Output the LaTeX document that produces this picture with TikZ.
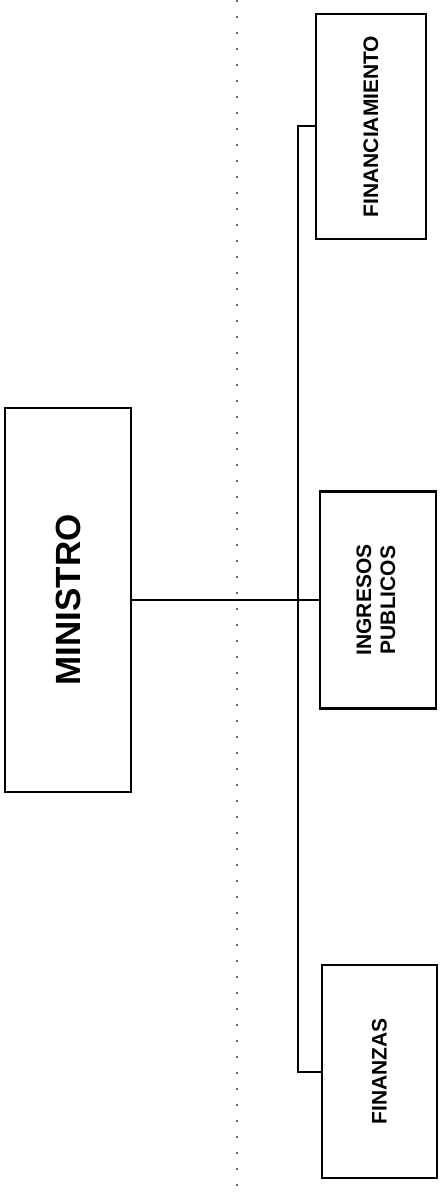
\documentclass[tikz,border=0pt]{standalone}
\usepackage{fontspec}
\setmainfont{Liberation Sans}
\usepackage{graphicx}
\usepackage{tikz}

\tikzset{
    unitbox/.style={draw, line width=1.2pt, inner sep=0pt, font=\bfseries\fontsize{10.5}{13}\selectfont},
    link/.style={line width=1pt}
}

\begin{document}
\begin{tikzpicture}[x=0.5pt,y=-0.5pt]
\useasboundingbox (0,0) rectangle (439,1192);

% Dotted guide line
\draw[gray!80!black, line width=0.8pt, dash pattern=on 1pt off 7pt] (237,0) -- (237,1192);

% Minister
\node[unitbox, minimum width=63pt, minimum height=192pt, font=\bfseries\fontsize{17.5}{21}\selectfont]
    (min) at (68,600) {\rotatebox{90}{MINISTRO}};

% Dependent units
\node[unitbox, minimum width=55pt, minimum height=112.5pt] (fin) at (371,126.5) {\rotatebox{90}{FINANCIAMIENTO}};
\node[unitbox, minimum width=58pt, minimum height=108.5pt] (ing) at (378,600)
    {\rotatebox{90}{\begin{tabular}{@{}c@{}}INGRESOS\\[-1pt]PUBLICOS\end{tabular}}};
\node[unitbox, minimum width=57.5pt, minimum height=106.5pt] (fnz) at (379.5,1071.5) {\rotatebox{90}{FINANZAS}};

% Connectors
\coordinate (trunk) at (298,600);
\draw[link] (min.east) -- (ing.west);
\draw[link] (fin.west) -- (fin.west -| trunk) -- (fnz.west -| trunk) -- (fnz.west);

\end{tikzpicture}
\end{document}
